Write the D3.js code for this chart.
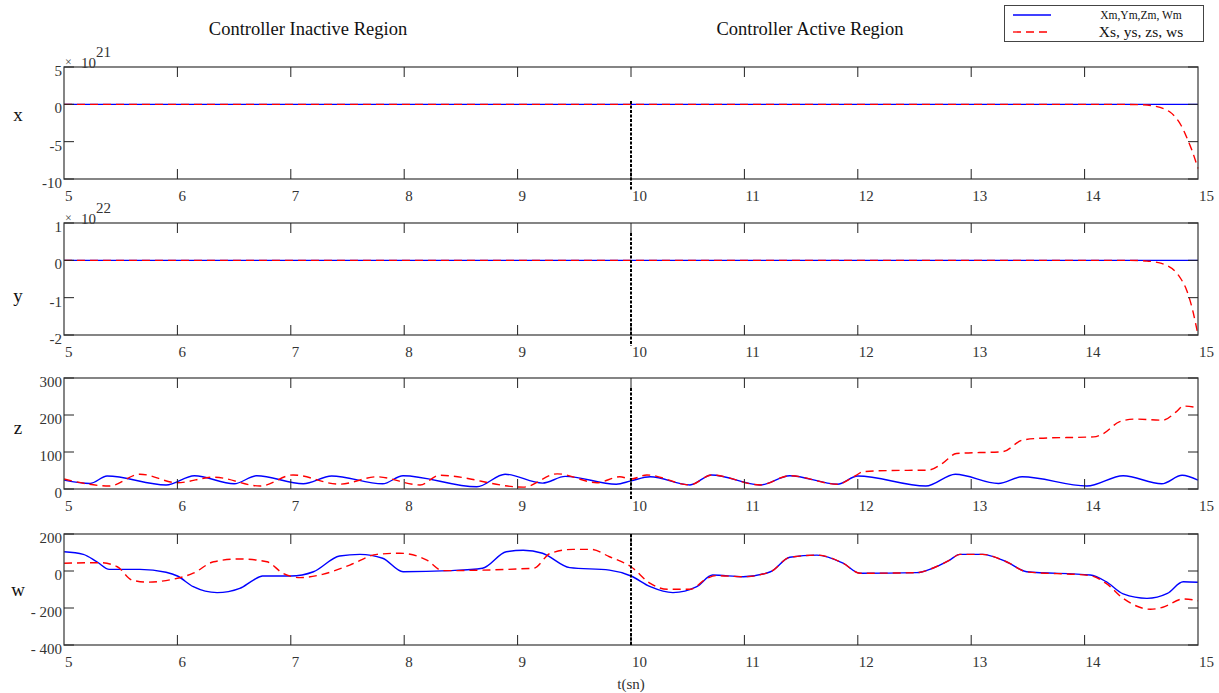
<!DOCTYPE html>
<html lang="en">
<head>
<meta charset="utf-8">
<title>Controller regions</title>
<script src="https://cdn.jsdelivr.net/npm/d3@7"></script>
<style>
  body { margin: 0; background: #fff; }
  text { font-family: "Liberation Serif", "DejaVu Serif", serif; }
</style>
</head>
<body>
<script>
// --- data ---
var tRange = [5, 15];
var tTicks = [5, 6, 7, 8, 9, 10, 11, 12, 13, 14, 15];
var switchTime = 10;

// x (x 10^21)
var xMasterT = [5, 15];
var xMasterV = [0, 0];
var xSlaveT = [5, 14.3, 14.5, 14.6, 14.7, 14.75, 14.8, 14.85, 14.9, 14.95, 15];
var xSlaveV = [0, 0, -0.05, -0.2, -0.6, -1.0, -1.7, -2.8, -4.4, -6.3, -8.6];
var xTicks = [5, 0, -5, -10];

// y (x 10^22)
var yMasterT = [5, 15];
var yMasterV = [0, 0];
var ySlaveT = [5, 14.4, 14.55, 14.65, 14.72, 14.8, 14.85, 14.9, 14.95, 15];
var ySlaveV = [0, 0, -0.02, -0.06, -0.13, -0.3, -0.5, -0.8, -1.3, -2.0];
var yTicks = [1, 0, -1, -2];

// z
var zMasterT = [5, 5.23, 5.38, 5.9, 6.15, 6.5, 6.7, 7.11, 7.36, 7.81, 7.99, 8.64, 8.89, 9.22, 9.42, 9.87, 10.0, 10.17, 10.52, 10.71, 11.14, 11.4, 11.82, 12.0, 12.6, 12.86, 13.24, 13.45, 14.02, 14.34, 14.68, 14.86, 15];
var zMasterV = [24, 15, 35, 11, 36, 14, 36, 14, 35, 14, 36, 6, 40, 16, 34, 13, 22, 33, 11, 38, 11, 36, 13, 35, 8, 40, 15, 33, 8, 36, 14, 37, 24];
var zSlaveT = [5, 5.4, 5.67, 6.0, 6.32, 6.73, 7.02, 7.43, 7.76, 8.14, 8.31, 9.05, 9.35, 9.7, 9.9, 10.0, 10.14, 10.52, 10.71, 11.14, 11.4, 11.82, 11.98, 12.05, 12.3, 12.62, 12.75, 12.87, 13.28, 13.45, 13.6, 14.08, 14.16, 14.31, 14.45, 14.69, 14.81, 14.87, 15];
var zSlaveV = [27, 8, 40, 17, 32, 8, 38, 13, 33, 11, 37, 5, 41, 17, 33, 27, 38, 11, 38, 11, 36, 13, 36, 47, 50, 51, 70, 96, 101, 132, 137, 141, 149, 182, 189, 186, 209, 224, 220];
var zTicks = [300, 200, 100, 0];

// w
var wMasterT = [5, 5.17, 5.29, 5.4, 5.67, 5.9, 6.0, 6.14, 6.35, 6.55, 6.67, 6.75, 7.0, 7.2, 7.43, 7.61, 7.81, 7.99, 8.4, 8.69, 8.9, 9.05, 9.22, 9.46, 9.81, 10.0, 10.17, 10.37, 10.58, 10.72, 10.99, 11.23, 11.4, 11.64, 11.87, 12.02, 12.52, 12.66, 12.81, 12.9, 13.1, 13.31, 13.49, 14.05, 14.19, 14.34, 14.55, 14.73, 14.87, 15];
var wMasterV = [104, 90, 50, 9, 9, -7, -27, -85, -117, -94, -49, -27, -27, -4, 81, 90, 69, -4, 2, 15, 104, 112, 96, 18, 5, -27, -85, -117, -85, -22, -31, -4, 74, 86, 42, -12, -9, 15, 59, 90, 90, 50, -4, -22, -58, -124, -148, -121, -58, -61];
var wSlaveT = [5, 5.32, 5.47, 5.6, 5.73, 5.96, 6.14, 6.32, 6.55, 6.79, 6.93, 7.08, 7.28, 7.52, 7.76, 7.96, 8.2, 8.34, 9.14, 9.29, 9.49, 9.65, 9.81, 10.0, 10.17, 10.32, 10.52, 10.67, 10.75, 10.99, 11.23, 11.4, 11.64, 11.87, 12.02, 12.52, 12.66, 12.81, 12.9, 13.1, 13.31, 13.49, 14.05, 14.19, 14.34, 14.58, 14.69, 14.87, 15];
var wSlaveV = [42, 45, 23, -49, -60, -45, -12, 50, 65, 50, -12, -36, -18, 32, 90, 96, 59, 2, 15, 96, 117, 117, 77, 23, -67, -99, -99, -40, -25, -31, -4, 74, 86, 42, -12, -9, 15, 59, 90, 90, 50, -4, -25, -67, -148, -207, -196, -151, -161];
var wTicks = [200, 0, -200, -400];
var wTickLabels = ["200", "0", "- 200", "- 400"];

var titles = ["Controller Inactive Region", "Controller Active Region"];
var legendLabels = ["Xm,Ym,Zm, Wm", "Xs, ys, zs, ws"];

// --- layout ---
var W = 1219, H = 693;
var left = 64, right = 1198;
var tickLen = 10;
var blue = "#0000ff", red = "#ff0000";

var panels = [
  { name: "x", top: 67, bottom: 179, domain: [-10, 5], ticks: xTicks, labels: xTicks.map(String), exp: "21",
    master: d3.zip(xMasterT, xMasterV), slave: d3.zip(xSlaveT, xSlaveV), labelY: 121, vline: [101, 190] },
  { name: "y", top: 223, bottom: 335, domain: [-2, 1], ticks: yTicks, labels: yTicks.map(String), exp: "22",
    master: d3.zip(yMasterT, yMasterV), slave: d3.zip(ySlaveT, ySlaveV), labelY: 302, vline: [233, 346] },
  { name: "z", top: 378, bottom: 489, domain: [0, 300], ticks: zTicks, labels: zTicks.map(String),
    master: d3.zip(zMasterT, zMasterV), slave: d3.zip(zSlaveT, zSlaveV), labelY: 434, vline: [388, 500] },
  { name: "w", top: 534, bottom: 645, domain: [-400, 200], ticks: wTicks, labels: wTickLabels,
    master: d3.zip(wMasterT, wMasterV), slave: d3.zip(wSlaveT, wSlaveV), labelY: 596, vline: [534, 645] }
];

var svg = d3.select("body").append("svg")
  .attr("width", W)
  .attr("height", H);

var xScale = d3.scaleLinear().domain(tRange).range([left, right]);

// titles
svg.selectAll("text.title")
  .data(titles)
  .enter()
  .append("text")
  .attr("class", "title")
  .attr("x", function(d, i) { return i === 0 ? 308 : 810; })
  .attr("y", 35)
  .attr("text-anchor", "middle")
  .attr("font-size", "18.5px")
  .attr("fill", "#111")
  .text(function(d) { return d; });

panels.forEach(function(p) {
  var yScale = d3.scaleLinear().domain(p.domain).range([p.bottom, p.top]);
  var g = svg.append("g");

  // data lines
  var line = d3.line()
    .x(function(d) { return xScale(d[0]); })
    .y(function(d) { return yScale(d[1]); })
    .curve(d3.curveMonotoneX);

  g.append("path")
    .datum(p.master)
    .attr("d", line)
    .attr("fill", "none")
    .attr("stroke", blue)
    .attr("stroke-width", 1.4);

  g.append("path")
    .datum(p.slave)
    .attr("d", line)
    .attr("fill", "none")
    .attr("stroke", red)
    .attr("stroke-width", 1.4)
    .attr("stroke-dasharray", "8,5");

  // frame
  g.append("rect")
    .attr("x", left)
    .attr("y", p.top)
    .attr("width", right - left)
    .attr("height", p.bottom - p.top)
    .attr("fill", "none")
    .attr("stroke", "#444")
    .attr("stroke-width", 1.3);

  // x ticks (inner, top and bottom)
  var tt = tTicks.slice(1, -1);
  g.selectAll("line.tb")
    .data(tt)
    .enter()
    .append("line")
    .attr("x1", function(d) { return xScale(d); })
    .attr("x2", function(d) { return xScale(d); })
    .attr("y1", p.bottom)
    .attr("y2", p.bottom - tickLen)
    .attr("stroke", "#222");
  g.selectAll("line.tt")
    .data(tt)
    .enter()
    .append("line")
    .attr("x1", function(d) { return xScale(d); })
    .attr("x2", function(d) { return xScale(d); })
    .attr("y1", p.top)
    .attr("y2", p.top + tickLen)
    .attr("stroke", "#222");

  g.selectAll("text.xt")
    .data(tTicks)
    .enter()
    .append("text")
    .attr("x", function(d) { return xScale(d) + 1; })
    .attr("y", p.bottom + 22)
    .attr("font-size", "15px")
    .attr("fill", "#333")
    .text(function(d) { return d; });

  // y ticks (inner, left and right)
  g.selectAll("line.yl")
    .data(p.ticks)
    .enter()
    .append("line")
    .attr("x1", left)
    .attr("x2", left + tickLen)
    .attr("y1", function(d) { return yScale(d); })
    .attr("y2", function(d) { return yScale(d); })
    .attr("stroke", "#222");
  g.selectAll("line.yr")
    .data(p.ticks)
    .enter()
    .append("line")
    .attr("x1", right)
    .attr("x2", right - tickLen)
    .attr("y1", function(d) { return yScale(d); })
    .attr("y2", function(d) { return yScale(d); })
    .attr("stroke", "#222");

  g.selectAll("text.yt")
    .data(p.ticks)
    .enter()
    .append("text")
    .attr("x", left - 2)
    .attr("y", function(d) { return yScale(d) + 9; })
    .attr("text-anchor", "end")
    .attr("font-size", "15px")
    .attr("fill", "#333")
    .text(function(d, i) { return p.labels[i]; });

  // panel label
  g.append("text")
    .attr("x", 18)
    .attr("y", p.labelY)
    .attr("text-anchor", "middle")
    .attr("font-size", "19px")
    .attr("fill", "#111")
    .text(p.name);

  // exponent
  if (p.exp) {
    g.append("text")
      .attr("x", 65)
      .attr("y", p.top - 1)
      .attr("font-size", "12px")
      .attr("fill", "#444")
      .text("\u00d7");
    g.append("text")
      .attr("x", 81)
      .attr("y", p.top + 1)
      .attr("font-size", "15px")
      .attr("fill", "#333")
      .text("10");
    g.append("text")
      .attr("x", 96)
      .attr("y", p.top - 10)
      .attr("font-size", "15px")
      .attr("fill", "#333")
      .text(p.exp);
  }

  // switching instant
  g.append("line")
    .attr("x1", xScale(switchTime))
    .attr("x2", xScale(switchTime))
    .attr("y1", p.vline[0])
    .attr("y2", p.vline[1])
    .attr("stroke", "#000")
    .attr("stroke-width", 2)
    .attr("stroke-dasharray", "3,1.5");
});

// x label
svg.append("text")
  .attr("x", 631)
  .attr("y", 689)
  .attr("text-anchor", "middle")
  .attr("font-size", "15px")
  .attr("fill", "#333")
  .text("t(sn)");

// legend
var legend = svg.append("g");
legend.append("rect")
  .attr("x", 1004.5)
  .attr("y", 5.5)
  .attr("width", 199)
  .attr("height", 36)
  .attr("fill", "#fff")
  .attr("stroke", "#444");

legend.selectAll("line.lg")
  .data([blue, red])
  .enter()
  .append("line")
  .attr("x1", 1013)
  .attr("x2", 1051)
  .attr("y1", function(d, i) { return 15 + i * 17; })
  .attr("y2", function(d, i) { return 15 + i * 17; })
  .attr("stroke", function(d) { return d; })
  .attr("stroke-width", 1.3)
  .attr("stroke-dasharray", function(d, i) { return i ? "8,5" : null; });

legend.selectAll("text.lg")
  .data(legendLabels)
  .enter()
  .append("text")
  .attr("x", 1141)
  .attr("y", function(d, i) { return i ? 37 : 19; })
  .attr("text-anchor", "middle")
  .attr("font-size", function(d, i) { return i ? "15.5px" : "11.5px"; })
  .attr("fill", "#111")
  .text(function(d) { return d; });
</script>
</body>
</html>
